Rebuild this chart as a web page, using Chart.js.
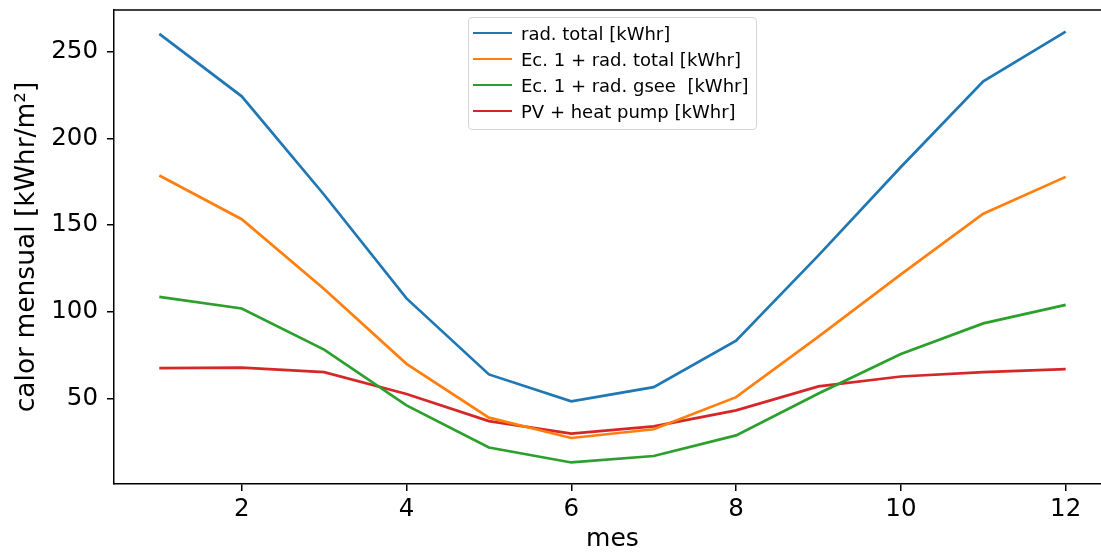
<!DOCTYPE html>
<html><head><meta charset="utf-8">
<script src="https://cdn.jsdelivr.net/npm/chart.js@4"></script>
<style>
html,body{margin:0;padding:0;background:#fff;overflow:hidden;}
#wrap{position:relative;width:1112px;height:553px;}
#legend{position:absolute;left:468px;top:17px;width:289px;height:113px;border:1px solid #d6d6d6;border-radius:4px;background:rgba(255,255,255,0.8);font-family:"DejaVu Sans";font-size:18px;color:#000;box-sizing:border-box;padding-top:2px;}
.row{height:26px;display:flex;align-items:center;white-space:pre;}
.sw{width:39px;height:2.7px;margin-left:4px;margin-right:9px;flex:none;}
</style></head>
<body><div id="wrap"><canvas id="c" width="1112" height="553"></canvas><div id="legend"></div></div>
<script>
const months = [1,2,3,4,5,6,7,8,9,10,11,12];
const radTotal   = [260.2,224.2,167.5,107.8,64.0,48.5,56.7,83.5,132.6,183.5,232.8,261.5];
const ec1RadTot  = [178.6,153.4,113.2,70.1,39.1,27.4,32.4,50.9,85.8,121.6,156.6,177.8];
const ec1Gsee    = [108.7,102.0,78.3,46.2,21.9,13.3,17.0,28.9,53.0,75.8,93.4,104.1];
const pvHeatPump = [67.6,67.9,65.3,52.7,37.1,29.9,34.1,43.3,57.1,62.8,65.3,67.0];
const seriesLabels = ['rad. total [kWhr]','Ec. 1 + rad. total [kWhr]','Ec. 1 + rad. gsee  [kWhr]','PV + heat pump [kWhr]'];
const colors = ['#1f77b4','#ff7f0e','#2ca02c','#d62728'];
const xTicks = [2,4,6,8,10,12];
const yTicks = [50,100,150,200,250];

const allSeries = [radTotal, ec1RadTot, ec1Gsee, pvHeatPump];
const flat = allSeries.flat();
const yMinD = Math.min(...flat), yMaxD = Math.max(...flat), yr = yMaxD - yMinD;
const xr = months[months.length-1] - months[0];

const frame = {id:'frame', afterDraw(chart){
  const {ctx, chartArea:a} = chart;
  ctx.save(); ctx.strokeStyle='#000'; ctx.lineWidth=1.5;
  ctx.beginPath(); ctx.moveTo(a.left, a.top); ctx.lineTo(a.right, a.top); ctx.stroke();
  ctx.restore();
}};

const tickFont = {family:'DejaVu Sans', size:24.5};
const chart = new Chart(document.getElementById('c'), {
  type:'line',
  data:{datasets: allSeries.map((s,i)=>({
    label: seriesLabels[i],
    data: s.map((v,j)=>({x:months[j], y:v})),
    borderColor: colors[i], backgroundColor: colors[i],
    borderWidth: 2.7, pointRadius: 0, tension: 0, fill:false
  }))},
  options:{
    responsive:false, animation:false, devicePixelRatio:1,
    layout:{padding:{top:10,right:1,left:0,bottom:0}},
    plugins:{legend:{display:false}, tooltip:{enabled:false}},
    scales:{
      x:{type:'linear', min: months[0]-0.05*xr, max: months[months.length-1]+0.05*xr,
        afterBuildTicks: s => { s.ticks = xTicks.map(v=>({value:v})); },
        afterFit: s => { s.height = 69; s.paddingLeft = 0; s.paddingRight = 0; },
        ticks:{font:tickFont, color:'#000', padding:4, maxRotation:0, autoSkip:false},
        grid:{drawOnChartArea:false, color:'#000', tickLength:7, lineWidth:1.5},
        border:{color:'#000', width:1.5},
        title:{display:true, text:'mes', font:{family:'DejaVu Sans', size:25}, color:'#000', padding:{top:0,bottom:-1}}
      },
      y:{type:'linear', min: yMinD-0.05*yr, max: yMaxD+0.05*yr,
        afterBuildTicks: s => { s.ticks = yTicks.map(v=>({value:v})); },
        afterFit: s => { s.width = 114; s.paddingTop = 0; s.paddingBottom = 0; },
        ticks:{font:tickFont, color:'#000', padding:9, autoSkip:false},
        grid:{drawOnChartArea:false, color:'#000', tickLength:7, lineWidth:1.5},
        border:{color:'#000', width:1.5},
        title:{display:true, text:'calor mensual [kWhr/m²]', font:{family:'DejaVu Sans', size:26.5}, color:'#000', padding:{top:11,bottom:0}}
      }
    }
  },
  plugins:[frame]
});

const lg = document.getElementById('legend');
chart.data.datasets.forEach(d=>{
  const r=document.createElement('div'); r.className='row';
  const sw=document.createElement('span'); sw.className='sw'; sw.style.background=d.borderColor;
  const t=document.createElement('span'); t.textContent=d.label;
  r.appendChild(sw); r.appendChild(t); lg.appendChild(r);
});
</script>
</body></html>
